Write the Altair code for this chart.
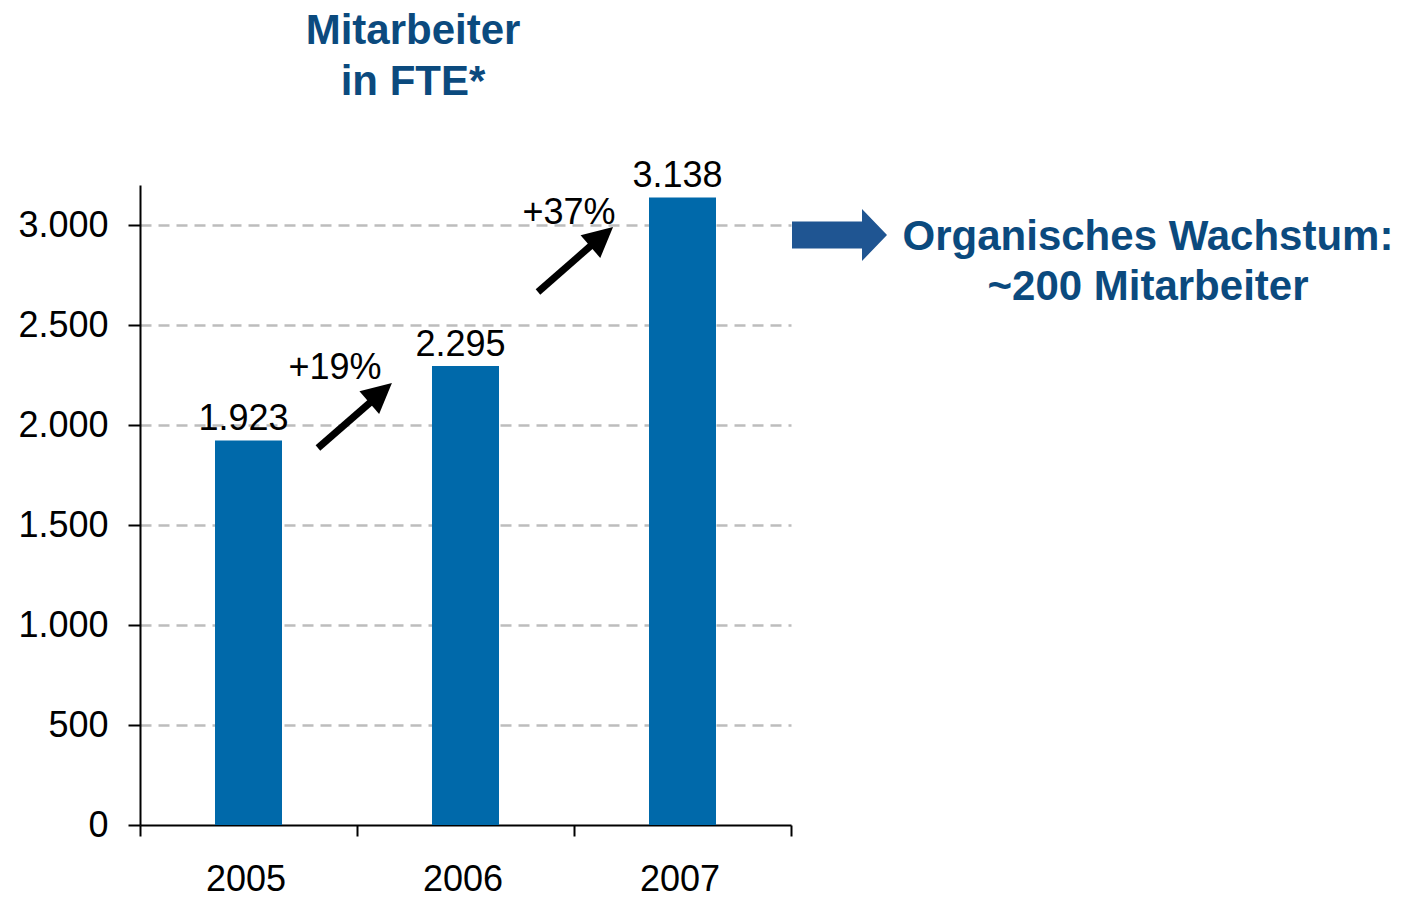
import altair as alt
import pandas as pd

FONT = "Liberation Sans"

# ---- data ----
years = ["2005", "2006", "2007"]
employees = [1923, 2295, 3138]
y_ticks = [0, 500, 1000, 1500, 2000, 2500, 3000]
title_lines = ["Mitarbeiter", "in FTE*"]
note_lines = ["Organisches Wachstum:", "~200 Mitarbeiter"]

# growth-arrow annotations (x in band units 0..3, y in FTE units)
arrow_x_start = [0.82, 1.834]
arrow_y_start = [1885, 2665]
arrow_x_base = [1.074, 2.092]
arrow_y_base = [2125, 2910]
arrow_x_tip = [1.161, 2.180]
arrow_y_tip = [2210, 2990]
pct_x = [0.899, 1.977]
pct_y = [2230, 3005]
pct_labels = ["+%d%%" % round((employees[i + 1] / employees[i] - 1) * 100) for i in range(2)]

BAR = "#0069AA"
DARK = "#0B4A7E"
BLOCK = "#1F5592"

df = pd.DataFrame({"year": years, "fte": employees})
arrows = pd.DataFrame({
    "xs": arrow_x_start, "ys": arrow_y_start,
    "xb": arrow_x_base, "yb": arrow_y_base,
    "xt": arrow_x_tip, "yt": arrow_y_tip,
    "px": pct_x, "py": pct_y, "pl": pct_labels,
})
one = pd.DataFrame({"a": [0]})

yscale = alt.Scale(domain=[0, 3200], nice=False, zero=True)
lin = alt.Scale(domain=[0, 3], nice=False, zero=False)

xaxis = alt.Axis(
    title=None, labelAngle=0, tickBand="extent", tickSize=11, tickWidth=2,
    tickColor="black", domainColor="black", domainWidth=2,
    labelFontSize=36, labelFont=FONT, labelColor="black", labelPadding=26, grid=False,
    labelOffset=-3,
)
yaxis = alt.Axis(
    title=None, values=y_ticks, tickSize=12, tickWidth=2, tickColor="black",
    domainColor="black", domainWidth=2, labelFontSize=36, labelFont=FONT,
    labelColor="black", labelPadding=20, grid=True, gridDash=[11, 7],
    gridColor=alt.condition("datum.value == 0", alt.value("transparent"), alt.value("#bdbdbd")),
    gridWidth=2.5,
    labelExpr="replace(format(datum.value, ','), ',', '.')",
)

xband = alt.X("year:N", sort=years, scale=alt.Scale(paddingInner=0, paddingOuter=0), axis=xaxis)

bars = alt.Chart(df).mark_bar(size=67, color=BAR).encode(
    x=xband,
    y=alt.Y("fte:Q", scale=yscale, axis=yaxis),
)
labels = alt.Chart(df).transform_calculate(
    lab="replace(format(datum.fte, ','), ',', '.')"
).mark_text(dy=-10, dx=-5, baseline="alphabetic", fontSize=36, font=FONT, color="black").encode(
    x=xband,
    y=alt.Y("fte:Q", scale=yscale, title=None),
    text="lab:N",
)
base = alt.layer(bars, labels)

shaft = alt.Chart(arrows).mark_rule(strokeWidth=7, color="black", strokeCap="butt").encode(
    x=alt.X("xs:Q", scale=lin, axis=None), x2="xb:Q",
    y=alt.Y("ys:Q", scale=yscale, title=None), y2="yb:Q",
)
head = alt.Chart(arrows).mark_point(
    shape="M 0 0 L 0.5 1 L -0.5 1 Z", size=3600, filled=True, color="black",
    opacity=1, strokeWidth=0, angle=49,
).encode(
    x=alt.X("xt:Q", scale=lin, axis=None),
    y=alt.Y("yt:Q", scale=yscale, title=None),
)
pct = alt.Chart(arrows).mark_text(
    fontSize=36, font=FONT, color="black", baseline="alphabetic", align="center"
).encode(
    x=alt.X("px:Q", scale=lin, axis=None),
    y=alt.Y("py:Q", scale=yscale, title=None),
    text="pl:N",
)

title = alt.Chart(one).mark_text(
    fontSize=42, font=FONT, fontWeight="bold", color=DARK, align="center",
    baseline="alphabetic", lineHeight=51,
).encode(x=alt.value(273), y=alt.value(-141), text=alt.value(title_lines))

note = alt.Chart(one).mark_text(
    fontSize=42, font=FONT, fontWeight="bold", color=DARK, align="center",
    baseline="alphabetic", lineHeight=50,
).encode(x=alt.value(1008), y=alt.value(65), text=alt.value(note_lines))

block = alt.Chart(one).mark_point(
    shape="M -1 -0.284 L 0.474 -0.284 L 0.474 -0.547 L 1 0 L 0.474 0.547 L 0.474 0.284 L -1 0.284 Z",
    size=9025, filled=True, color=BLOCK, opacity=1, strokeWidth=0,
).encode(x=alt.value(699.5), y=alt.value(50))

chart = alt.layer(base, shaft, head, pct, title, note, block).resolve_scale(
    x="independent"
).properties(
    width=651, height=640,
    autosize=alt.AutoSizeParams(type="none"),
    padding={"left": 132, "top": 177, "right": 606, "bottom": 72},
).configure_view(stroke=None)

chart.save("out.html", embed_options={"renderer": "svg", "actions": False})
